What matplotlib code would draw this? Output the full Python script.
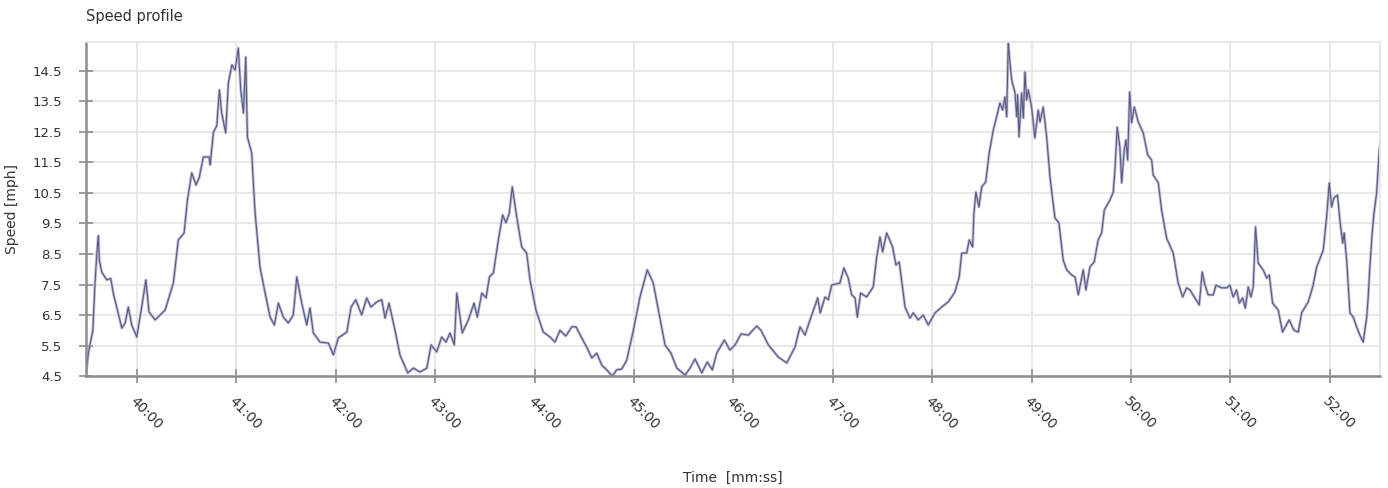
import matplotlib.pyplot as plt
import numpy as np
from matplotlib.ticker import FuncFormatter

# elapsed time in seconds (2400 = 40:00) and speed in mph
time_s = [
    2369.2, 2370.6, 2373.3, 2374.6, 2375.7, 2376.6, 2377.2, 2378.7, 2381.7, 2384.1,
    2385.7, 2390.8, 2392.8, 2394.7, 2396.8, 2399.8, 2402.8, 2405.3, 2407.2, 2410.9,
    2416.9, 2421.9, 2424.9, 2428.4, 2430.4, 2433.0, 2435.6, 2437.6, 2440.0, 2443.5,
    2444.1, 2446.1, 2448.1, 2449.7, 2451.1, 2453.5, 2455.1, 2457.2, 2459.2, 2461.1,
    2462.6, 2464.2, 2465.6, 2466.6, 2469.2, 2471.2, 2474.2, 2477.3, 2480.3, 2482.9,
    2485.3, 2488.3, 2491.3, 2494.3, 2496.4, 2499.4, 2502.4, 2504.4, 2506.4, 2510.5,
    2515.5, 2518.5, 2521.5, 2526.6, 2529.2, 2532.0, 2535.6, 2538.6, 2541.2, 2544.7,
    2547.7, 2549.7, 2552.1, 2555.7, 2558.7, 2563.4, 2566.8, 2570.8, 2574.9, 2577.5,
    2580.9, 2583.9, 2586.5, 2588.9, 2591.5, 2593.0, 2596.3, 2600.0, 2603.4, 2605.4,
    2608.1, 2610.7, 2612.7, 2615.1, 2618.1, 2620.7, 2622.7, 2624.7, 2626.5, 2629.2,
    2632.2, 2635.2, 2637.2, 2640.8, 2645.2, 2649.3, 2652.3, 2655.3, 2658.8, 2662.4,
    2665.0, 2668.4, 2671.4, 2674.5, 2677.5, 2680.5, 2683.5, 2686.9, 2689.5, 2692.6,
    2695.6, 2699.6, 2703.6, 2708.0, 2711.6, 2714.7, 2718.7, 2722.3, 2725.8, 2730.8,
    2733.8, 2736.8, 2740.9, 2744.2, 2747.3, 2749.9, 2754.5, 2757.9, 2761.0, 2764.6,
    2769.0, 2774.1, 2776.6, 2781.1, 2787.1, 2792.2, 2797.2, 2800.2, 2803.2, 2806.8,
    2810.9, 2812.4, 2815.3, 2817.3, 2819.3, 2824.3, 2826.7, 2829.3, 2831.4, 2833.4,
    2834.8, 2836.8, 2840.4, 2844.4, 2846.5, 2848.5, 2850.1, 2852.5, 2856.1, 2858.1,
    2860.1, 2863.6, 2866.6, 2868.6, 2871.6, 2874.6, 2877.6, 2881.7, 2885.7, 2889.7,
    2893.7, 2896.3, 2897.8, 2900.8, 2902.4, 2904.4, 2905.2, 2906.4, 2908.2, 2909.9,
    2912.3, 2914.4, 2916.9, 2918.9, 2920.9, 2922.5, 2923.9, 2925.0, 2925.9, 2926.9,
    2928.0, 2930.0, 2931.0, 2931.6, 2932.4, 2934.0, 2935.0, 2936.0, 2937.0, 2938.0,
    2940.0, 2942.0, 2944.0, 2945.1, 2947.0, 2949.1, 2951.1, 2954.1, 2956.5, 2959.1,
    2961.2, 2964.2, 2966.2, 2968.2, 2971.2, 2972.8, 2975.2, 2977.8, 2980.2, 2982.3,
    2983.9, 2987.3, 2989.3, 2990.3, 2991.7, 2993.3, 2994.4, 2995.9, 2997.0, 2998.0,
    2999.2, 3000.4, 3002.0, 3004.4, 3007.4, 3010.1, 3012.5, 3013.4, 3016.5, 3018.5,
    3021.5, 3025.5, 3028.5, 3031.2, 3033.6, 3035.6, 3038.6, 3041.2, 3043.0, 3044.7,
    3046.6, 3049.7, 3051.3, 3054.7, 3057.7, 3059.7, 3061.7, 3063.8, 3065.4, 3067.4,
    3069.0, 3070.8, 3072.4, 3073.8, 3075.2, 3076.8, 3079.8, 3081.9, 3083.5, 3085.5,
    3088.9, 3091.5, 3095.5, 3098.4, 3101.0, 3103.0, 3107.0, 3109.7, 3112.1, 3116.1,
    3118.1, 3119.7, 3121.1, 3122.5, 3124.7, 3126.1, 3127.8, 3128.7, 3130.2, 3132.2,
    3134.2, 3136.2, 3138.2, 3140.2, 3142.3, 3143.2, 3144.2, 3145.6, 3146.7, 3148.3,
    3149.9, 3150.7,
]
speed_mph = [
    4.55, 5.25, 6.0, 7.55, 8.5, 9.1, 8.3, 7.9, 7.65, 7.7,
    7.2, 6.07, 6.24, 6.76, 6.17, 5.78, 6.76, 7.65, 6.6, 6.34,
    6.66, 7.55, 8.96, 9.19, 10.27, 11.16, 10.76, 11.02, 11.68, 11.68,
    11.42, 12.5, 12.7, 13.88, 13.12, 12.47, 14.1, 14.7, 14.53, 15.25,
    13.88, 13.12, 14.96, 12.34, 11.81, 9.88, 8.07, 7.22, 6.43, 6.17,
    6.89, 6.43, 6.24, 6.5, 7.75, 6.89, 6.17, 6.73, 5.91, 5.61,
    5.58, 5.19, 5.75, 5.94, 6.76, 7.0, 6.5, 7.06, 6.76, 6.93,
    7.0, 6.4, 6.89, 6.0, 5.19, 4.6, 4.76, 4.63, 4.76, 5.52,
    5.29, 5.78, 5.61, 5.91, 5.52, 7.22, 5.91, 6.34, 6.89, 6.43,
    7.22, 7.06, 7.75, 7.88, 8.96, 9.78, 9.52, 9.84, 10.7, 9.71,
    8.73, 8.53, 7.65, 6.66, 5.94, 5.78, 5.61, 6.0, 5.81, 6.11,
    6.11, 5.75, 5.45, 5.09, 5.25, 4.86, 4.7, 4.5, 4.7, 4.73,
    5.02, 6.0, 7.09, 7.98, 7.55, 6.66, 5.52, 5.25, 4.76, 4.53,
    4.76, 5.06, 4.6, 4.96, 4.7, 5.25, 5.68, 5.35, 5.52, 5.88,
    5.84, 6.14, 6.0, 5.52, 5.12, 4.93, 5.45, 6.11, 5.84, 6.43,
    7.06, 6.57, 7.09, 7.0, 7.48, 7.55, 8.04, 7.71, 7.16, 7.06,
    6.43, 7.22, 7.09, 7.42, 8.4, 9.06, 8.57, 9.19, 8.73, 8.14,
    8.24, 6.76, 6.4, 6.57, 6.34, 6.5, 6.17, 6.57, 6.76, 6.93,
    7.25, 7.75, 8.53, 8.53, 8.96, 8.73, 9.84, 10.53, 10.04, 10.7,
    10.86, 11.81, 12.57, 13.0, 13.45, 13.22, 13.65, 13.0, 15.45, 14.8,
    14.2, 13.78, 13.0, 13.72, 12.34, 13.78, 12.96, 14.47, 13.55, 13.88,
    13.32, 12.3, 13.22, 12.83, 13.32, 12.34, 11.02, 9.68, 9.52, 8.3,
    7.98, 7.81, 7.75, 7.16, 7.98, 7.32, 8.07, 8.24, 8.96, 9.19,
    9.94, 10.27, 10.53, 11.25, 12.66, 12.0, 10.83, 11.91, 12.24, 11.58,
    13.81, 12.8, 13.32, 12.83, 12.47, 11.75, 11.58, 11.09, 10.83, 9.94,
    9.02, 8.53, 7.55, 7.09, 7.39, 7.32, 7.06, 6.83, 7.91, 7.48,
    7.16, 7.16, 7.48, 7.39, 7.39, 7.48, 7.09, 7.32, 6.89, 7.06,
    6.73, 7.42, 7.09, 7.42, 9.39, 8.2, 7.98, 7.71, 7.81, 6.89,
    6.66, 5.94, 6.34, 6.0, 5.94, 6.57, 6.93, 7.42, 8.07, 8.63,
    9.71, 10.83, 10.04, 10.34, 10.43, 9.61, 8.86, 9.19, 8.3, 6.57,
    6.43, 6.11, 5.84, 5.61, 6.43, 7.09, 8.07, 9.19, 9.84, 10.5,
    11.91, 12.24,
]

minute_ticks = np.arange(2400, 3121, 60)
speed_ticks = np.arange(4.5, 15.0, 1.0)

text_col = "#333333"

fig = plt.figure(figsize=(13.88, 4.88), dpi=100)
ax = fig.add_axes([0.062, 0.2295, 0.9322, 0.6844])

# light halo under a thin dark trace, like the original renderer
ax.plot(time_s, speed_mph, color="#b8b8d8", lw=2.0)
ax.plot(time_s, speed_mph, color="#5a5a7e", lw=0.8)

ax.set_xlim(2369.2, 3150.3)
ax.set_ylim(4.5, 15.45)

ax.set_xticks(minute_ticks)
ax.set_yticks(speed_ticks)
ax.yaxis.set_major_formatter(FuncFormatter(lambda v, p: f"{v:.1f}"))
ax.xaxis.set_major_formatter(FuncFormatter(lambda v, p: f"{int(v) // 60:02d}:{int(v) % 60:02d}"))

ax.grid(True, color="#e6e6e6", lw=1.3)
ax.set_axisbelow(True)

for s in ["left", "bottom"]:
    ax.spines[s].set_color("#8c8c8c")
    ax.spines[s].set_linewidth(1.8)
for s in ["top", "right"]:
    ax.spines[s].set_color("#e6e6e6")
    ax.spines[s].set_linewidth(1.3)

ax.tick_params(axis="y", direction="inout", length=10, width=1.2, color="#8c8c8c",
               labelsize=9.5, labelcolor=text_col, pad=12)
ax.tick_params(axis="x", direction="inout", length=10, width=1.2, color="#8c8c8c",
               labelsize=10, labelcolor=text_col, pad=8)
for lbl in ax.get_xticklabels():
    lbl.set_rotation(-45)
    lbl.set_ha("left")
    lbl.set_va("top")
    lbl.set_rotation_mode("anchor")

ax.set_xlabel("Time  [mm:ss]", fontsize=10, color=text_col, labelpad=28)
ax.set_ylabel("Speed [mph]", fontsize=10, color=text_col, labelpad=10)
fig.text(86 / 1388, 1 - 17 / 488, "Speed profile", fontsize=10.5, color=text_col,
         ha="left", va="center")

fig.savefig("out.png", dpi=100)
